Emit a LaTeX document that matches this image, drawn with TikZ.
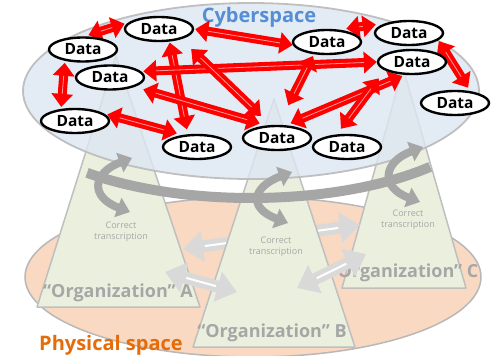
\documentclass[tikz,border=0pt]{standalone}
\usepackage{fontspec}
\setmainfont{Open Sans}
\usetikzlibrary{arrows.meta,shapes.geometric}

\definecolor{cyberfill}{HTML}{DCE6F2}
\definecolor{physfill}{HTML}{F9D9C1}
\definecolor{orgfill}{HTML}{EBF0DE}
\definecolor{edgegray}{HTML}{BFBFBF}
\definecolor{bandgray}{HTML}{A6A6A6}
\definecolor{txtgray}{HTML}{A6A6A6}
\definecolor{cyberblue}{HTML}{558ED5}
\definecolor{physorange}{HTML}{E46C0A}
\definecolor{paleshaft}{HTML}{D9D9D9}

\pgfdeclarelayer{scenery}
\pgfdeclarelayer{links}
\pgfsetlayers{scenery,links,main}

\tikzset{
  datanode/.style={ellipse, draw=black, line width=2.4pt, fill=white,
    minimum width=68pt, minimum height=24pt, inner sep=0pt,
    font=\bfseries\fontsize{15.5}{15.5}\selectfont},
  orgtri/.style={fill=orgfill, draw=edgegray, line width=1.5pt, line join=round},
  orglbl/.style={font=\bfseries\fontsize{18}{18}\selectfont, text=txtgray, inner sep=0pt},
  transc/.style={align=center, font=\fontsize{9}{11}\selectfont, text=txtgray, inner sep=0pt},
  redarrow/.style={draw=red, line width=9pt,
    {Triangle[width=21pt,length=13pt]}-{Triangle[width=21pt,length=13pt]}},
  redglint/.style={draw=white, draw opacity=0.6, line width=0.8pt},
  palearrow/.style={draw=paleshaft, line width=12pt,
    {Triangle[width=30pt,length=20pt]}-{Triangle[width=30pt,length=20pt]}},
  paleglint/.style={draw=white, line width=2pt},
  curlarrow/.style={draw=bandgray, line width=8pt,
    {Triangle[width=20pt,length=13pt]}-{Triangle[width=20pt,length=13pt]}}
}

% double red link between two data nodes, with a light streak along the shaft
\newcommand\redlink[4]{%
  \draw[redarrow, shorten <=#3, shorten >=#4] (#1) -- (#2);
  \draw[redglint, shorten <=#3+13pt, shorten >=#4+13pt] (#1) -- (#2);
}
% pale double link between organizations
\newcommand\palelink[2]{%
  \draw[palearrow] (#1) -- (#2);
  \draw[paleglint, shorten <=22pt, shorten >=22pt] (#1) -- (#2);
}

\begin{document}
\begin{tikzpicture}[x=1pt,y=-1pt]
\useasboundingbox (0,0) rectangle (496,356);

% data nodes (main layer, on top of everything)
\node[datanode] (D1)  at (159,29)   {Data};
\node[datanode] (D2)  at (83,49.5)  {Data};
\node[datanode] (D3)  at (110,77.5) {Data};
\node[datanode] (D4)  at (75,121)   {Data};
\node[datanode] (D5)  at (197,147)  {Data};
\node[datanode] (D6)  at (277,138)  {Data};
\node[datanode] (D7)  at (347,147)  {Data};
\node[datanode] (D8)  at (327,42)   {Data};
\node[datanode] (D9)  at (409,33)   {Data};
\node[datanode] (D10) at (412,62)   {Data};
\node[datanode] (D11) at (455,103)  {Data};

\begin{pgfonlayer}{scenery}
  % physical space
  \filldraw[fill=physfill, draw=bandgray!80, line width=1.5pt]
    (253,277) ellipse [x radius=228pt, y radius=80pt];

  % organizations A and C
  \filldraw[orgtri] (116,56) -- (37,307) -- (200,307) -- cycle;
  \filldraw[orgtri] (403,68) -- (342,288) -- (466,288) -- cycle;

  % link A <-> C, passing behind B
  \coordinate (acL) at (183,249);
  \coordinate (acR) at (360,225);
  \palelink{acL}{acR}

  % organization B
  \filldraw[orgtri] (274,99) -- (193,347) -- (355,347) -- cycle;

  % cyberspace
  \filldraw[fill=cyberfill, fill opacity=0.8, draw=edgegray, line width=1.8pt]
    (251,91) ellipse [x radius=228pt, y radius=88pt];
  \node[font=\bfseries\fontsize{20}{20}\selectfont, text=cyberblue, anchor=base, inner sep=0pt]
    (cyberlbl) at (259,23) {Cyberspace};

  % ring band under cyberspace
  \draw[bandgray, line width=10pt]
    plot[domain=132:43, samples=80] ({251+245*cos(\x)},{100+98*sin(\x)});

  % transcription arrows
  \coordinate (cA1) at (132,158); \coordinate (cA2) at (130,212);
  \coordinate (cB1) at (292,172); \coordinate (cB2) at (288,223);
  \coordinate (cC1) at (423,147); \coordinate (cC2) at (420,202);
  \draw[curlarrow] (cA1) .. controls +(-40,15) and +(-40,-15) .. (cA2);
  \draw[curlarrow] (cB1) .. controls +(-40,15) and +(-40,-15) .. (cB2);
  \draw[curlarrow] (cC1) .. controls +(-40,15) and +(-40,-15) .. (cC2);

  \node[transc] (trA) at (121,231.5) {Correct\\transcription};
  \node[transc] (trB) at (276,246.5) {Correct\\transcription};
  \node[transc] (trC) at (408,219.5) {Correct\\transcription};

  \node[orglbl, anchor=base] (orgA) at (118,297) {“Organization” A};
  \node[orglbl, anchor=base] (orgB) at (272,337) {“Organization” B};
  \node[orglbl, anchor=base] (orgC) at (404,277) {“Organization” C};

  \node[font=\bfseries\fontsize{20}{20}\selectfont, text=physorange, anchor=base, inner sep=0pt]
    (physlbl) at (111,350) {Physical space};

  % links A <-> B and B <-> C
  \coordinate (abL) at (165,272); \coordinate (abR) at (237,292);
  \coordinate (bcL) at (297,288); \coordinate (bcR) at (366,254);
  \palelink{abL}{abR}
  \palelink{bcL}{bcR}
\end{pgfonlayer}

\begin{pgfonlayer}{links}
  \redlink{D2.83}{D1.168}{4pt}{4pt}
  \redlink{D2.212}{D4.139}{2pt}{2pt}
  \redlink{D4.14}{D5.140}{3pt}{6pt}
  \redlink{D1.-50}{D5.126}{1pt}{5pt}
  \redlink{D3.11}{D10.180}{2pt}{0pt}
  \redlink{D1.east}{D8.185}{1pt}{0pt}
  \redlink{D1.-25}{D6.117}{14pt}{13pt}
  \redlink{D3.-21}{D6.130}{9pt}{7pt}
  \redlink{D8.223}{D6.84}{2pt}{22pt}
  \redlink{D10.242}{D6.55}{3pt}{5pt}
  \redlink{D10.197}{D7.129}{10pt}{7pt}
  \redlink{D8.45}{D9.157}{7pt}{10pt}
  \redlink{D9.-14}{D11.38}{1pt}{4pt}
\end{pgfonlayer}
\end{tikzpicture}
\end{document}
